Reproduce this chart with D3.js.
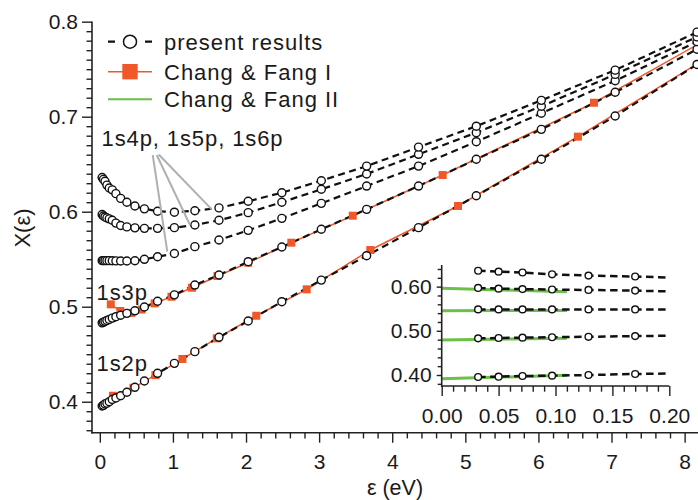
<!DOCTYPE html>
<html><head><meta charset="utf-8">
<script src="https://cdn.jsdelivr.net/npm/d3@7"></script>
<style>
html,body{margin:0;padding:0;background:#fff;}
svg text{font-family:"Liberation Sans",Arial,Helvetica,sans-serif;fill:#1a1a1a;}
</style></head><body>
<svg id="chart" width="698" height="500"></svg>
<script>
// Photon energy grid (eV) of the present calculation
const eps = [0.032, 0.050, 0.071, 0.097, 0.129, 0.170, 0.22, 0.285, 0.37, 0.48, 0.61, 0.79,
             1.02, 1.30, 1.63, 2.03, 2.49, 3.03, 3.65, 4.36, 5.15, 6.04, 7.05, 8.17];

// Present results, X(ε) for each final state
const x1s2p = [0.3955, 0.3962, 0.3977, 0.3985, 0.4000, 0.4023, 0.4040, 0.4063, 0.4100, 0.4152, 0.4218, 0.4299,
               0.4404, 0.4527, 0.4678, 0.4850, 0.5053, 0.5280, 0.5537, 0.5832, 0.6168, 0.6552, 0.7007, 0.7550];
const x1s3p = [0.4830, 0.4838, 0.4846, 0.4855, 0.4865, 0.4880, 0.4895, 0.4910, 0.4930, 0.4957, 0.4997, 0.5057,
               0.5125, 0.5228, 0.5334, 0.5474, 0.5628, 0.5815, 0.6025, 0.6270, 0.6552, 0.6867, 0.7257, 0.7710];
const x1s4p = [0.5485, 0.5485, 0.5485, 0.5485, 0.5485, 0.5484, 0.5482, 0.5481, 0.5481, 0.5484, 0.5499, 0.5526,
               0.5560, 0.5632, 0.5702, 0.5804, 0.5930, 0.6088, 0.6270, 0.6480, 0.6737, 0.7036, 0.7379, 0.7790];
const x1s5p = [0.5970, 0.5955, 0.5945, 0.5935, 0.5925, 0.5910, 0.5880, 0.5855, 0.5840, 0.5830, 0.5825, 0.5825,
               0.5832, 0.5860, 0.5910, 0.5990, 0.6100, 0.6236, 0.6397, 0.6604, 0.6832, 0.7110, 0.7445, 0.7840];
const x1s6p = [0.6360, 0.6340, 0.6320, 0.6280, 0.6250, 0.6230, 0.6190, 0.6140, 0.6100, 0.6060, 0.6030, 0.6005,
               0.5995, 0.6010, 0.6040, 0.6110, 0.6200, 0.6326, 0.6480, 0.6680, 0.6900, 0.7172, 0.7490, 0.7890];

// Chang & Fang I (markers), plus the curve's value at the right edge of the axis
const cf1Eps2p = [0.18, 0.46, 0.76, 1.13, 1.60, 2.14, 2.83, 3.70, 4.90, 6.54];
const cf1Val2p = [0.4063, 0.4147, 0.4280, 0.4450, 0.4667, 0.4905, 0.5183, 0.5597, 0.6060, 0.6790];
const cf1Eps3p = [0.15, 0.28, 0.43, 0.57, 0.75, 0.98, 1.26, 1.61, 2.03, 2.62, 3.46, 4.69, 6.76];
const cf1Val3p = [0.5025, 0.4955, 0.4935, 0.4970, 0.5035, 0.5105, 0.5200, 0.5323, 0.5463, 0.5674, 0.5958, 0.6386, 0.7147];
const cf1EdgeEps = 8.2;
const cf1EdgeVal2p = 0.757;
const cf1EdgeVal3p = 0.777;

// Chang & Fang II (low-energy curves)
const cf2Eps = [0.0, 0.11];
const cf2Val2p = [0.3917, 0.3993];
const cf2Val3p = [0.4793, 0.4832];
const cf2Val4p = [0.5455, 0.5460];
const cf2Val5p = [0.5963, 0.5886];

// Axis ticks
const xMajor = [0, 1, 2, 3, 4, 5, 6, 7, 8];
const yMajor = [0.4, 0.5, 0.6, 0.7, 0.8];
const insetXMajor = [0.00, 0.05, 0.10, 0.15, 0.20];
const insetYMajor = [0.40, 0.50, 0.60];

const stateLabels = ["1s2p", "1s3p"];
const groupLabel = "1s4p, 1s5p, 1s6p";
const legendLabels = ["present results", "Chang & Fang I", "Chang & Fang II"];

const BLACK = "#111", ORANGE = "#f0582a", GREEN = "#6cbf47", AXIS = "#222", GREY = "#b0b0b0";

const svg = d3.select("#chart");

const x = d3.scaleLinear().domain([-0.107, 8.183]).range([92, 698]);
const y = d3.scaleLinear().domain([0.3674, 0.8003]).range([432.7, 21.4]);

const present = [x1s2p, x1s3p, x1s4p, x1s5p, x1s6p].map(v => eps.map((e, i) => [e, v[i]]));
const cf1 = [
  cf1Eps2p.map((e, i) => [e, cf1Val2p[i]]),
  cf1Eps3p.map((e, i) => [e, cf1Val3p[i]])
];
const cf1Curves = [
  cf1[0].concat([[cf1EdgeEps, cf1EdgeVal2p]]),
  cf1[1].concat([[cf1EdgeEps, cf1EdgeVal3p]])
];
const cf2 = [cf2Val2p, cf2Val3p, cf2Val4p, cf2Val5p].map(v => cf2Eps.map((e, i) => [e, v[i]]));

function styleAxis(g, fontSize) {
  g.select(".domain").remove();
  g.selectAll(".tick line").attr("stroke", AXIS).attr("stroke-width", 1.4);
  g.selectAll(".tick text").attr("font-size", fontSize).attr("fill", "#1a1a1a")
    .style("font-family", '"Liberation Sans", Arial, sans-serif');
}

// ---------- main panel ----------
const defs = svg.append("defs");
defs.append("clipPath").attr("id", "mainClip").append("rect")
  .attr("x", 92).attr("y", 0).attr("width", 606).attr("height", 432.7);

const plot = svg.append("g").attr("clip-path", "url(#mainClip)");
const line = d3.line().x(d => x(d[0])).y(d => y(d[1]));

plot.selectAll("path.cf2").data(cf2).join("path").attr("class", "cf2")
  .attr("d", line).attr("fill", "none").attr("stroke", GREEN).attr("stroke-width", 2.2);
plot.selectAll("path.cf1").data(cf1Curves).join("path").attr("class", "cf1")
  .attr("d", line).attr("fill", "none").attr("stroke", ORANGE).attr("stroke-width", 1.5);
plot.selectAll("path.pres").data(present).join("path").attr("class", "pres")
  .attr("d", line).attr("fill", "none").attr("stroke", BLACK).attr("stroke-width", 2.2)
  .attr("stroke-dasharray", "7,4.5");
plot.selectAll("g.sq").data(cf1).join("g").attr("class", "sq")
  .selectAll("rect").data(d => d).join("rect")
  .attr("x", d => x(d[0]) - 4).attr("y", d => y(d[1]) - 4)
  .attr("width", 8).attr("height", 8).attr("fill", ORANGE);
plot.selectAll("g.pts").data(present).join("g").attr("class", "pts")
  .selectAll("circle").data(d => d).join("circle")
  .attr("cx", d => x(d[0])).attr("cy", d => y(d[1])).attr("r", 4)
  .attr("fill", "#fff").attr("stroke", BLACK).attr("stroke-width", 1.4);

// axes
const yAx = svg.append("g").attr("transform", "translate(92,0)");
yAx.append("g").call(d3.axisLeft(y).tickValues(d3.range(37, 81).map(d => d / 100).filter(v => Math.round(v * 100) % 10 !== 0))
  .tickSize(5.5).tickFormat("")).call(g => styleAxis(g, 21));
yAx.append("g").call(d3.axisLeft(y).tickValues(yMajor).tickSize(10).tickPadding(4).tickFormat(d3.format(".1f")))
  .call(g => styleAxis(g, 21));
yAx.append("line").attr("x1", 0).attr("x2", 0).attr("y1", y(0.8003)).attr("y2", 433.4)
  .attr("stroke", AXIS).attr("stroke-width", 1.6);

const xAx = svg.append("g").attr("transform", "translate(0,432.7)");
xAx.append("g").call(d3.axisBottom(x).tickValues(d3.range(0, 42).map(d => d / 5).filter(v => Math.abs(v - Math.round(v)) > 1e-6))
  .tickSize(5.7).tickFormat("")).call(g => styleAxis(g, 21));
xAx.append("g").call(d3.axisBottom(x).tickValues(xMajor).tickSize(10).tickFormat(d3.format("d")))
  .call(g => styleAxis(g, 21)).call(g => g.selectAll(".tick text").attr("y", 36.8).attr("dy", 0));
xAx.append("line").attr("x1", 91.2).attr("x2", 698).attr("y1", 0).attr("y2", 0)
  .attr("stroke", AXIS).attr("stroke-width", 1.6);

svg.append("text").attr("x", 395).attr("y", 494.5).attr("text-anchor", "middle")
  .attr("font-size", 21.5).text("ε (eV)");
svg.append("text").attr("transform", "translate(30,228) rotate(-90)").attr("text-anchor", "middle")
  .attr("font-size", 22).text("X(ε)");

// state labels and pointers
const pointerFrom = [[0.724, 0.6597], [0.778, 0.6597], [0.806, 0.6602]];
const pointerTo = [[0.923, 0.5579], [1.234, 0.586], [1.531, 0.6025]];
svg.selectAll("line.ptr").data(pointerFrom).join("line").attr("class", "ptr")
  .attr("x1", d => x(d[0])).attr("y1", d => y(d[1]))
  .attr("x2", (d, i) => x(pointerTo[i][0])).attr("y2", (d, i) => y(pointerTo[i][1]))
  .attr("stroke", GREY).attr("stroke-width", 2);
svg.append("text").attr("x", 101.5).attr("y", 146).attr("font-size", 22)
  .attr("letter-spacing", 0.9).text(groupLabel);
svg.append("text").attr("x", 96.5).attr("y", 300).attr("font-size", 22)
  .attr("letter-spacing", 0.9).text(stateLabels[1]);
svg.append("text").attr("x", 96.5).attr("y", 370.5).attr("font-size", 22)
  .attr("letter-spacing", 0.9).text(stateLabels[0]);

// legend
const leg = svg.append("g");
const legY = [41.7, 71.7, 99.3];
leg.append("line").attr("x1", 108).attr("x2", 152).attr("y1", legY[0]).attr("y2", legY[0])
  .attr("stroke", BLACK).attr("stroke-width", 2.2).attr("stroke-dasharray", "7,30");
leg.append("circle").attr("cx", 130).attr("cy", legY[0]).attr("r", 6.5)
  .attr("fill", "#fff").attr("stroke", BLACK).attr("stroke-width", 1.5);
leg.append("line").attr("x1", 108).attr("x2", 152).attr("y1", legY[1]).attr("y2", legY[1])
  .attr("stroke", ORANGE).attr("stroke-width", 1.6);
leg.append("rect").attr("x", 122.3).attr("y", legY[1] - 7.7).attr("width", 15.4).attr("height", 15.4)
  .attr("fill", ORANGE);
leg.append("line").attr("x1", 108).attr("x2", 152).attr("y1", legY[2]).attr("y2", legY[2])
  .attr("stroke", GREEN).attr("stroke-width", 2);
leg.selectAll("text").data(legendLabels).join("text")
  .attr("x", 164).attr("y", (d, i) => legY[i] + 7.8).attr("font-size", 22)
  .attr("letter-spacing", 1).text(d => d);

// ---------- inset: low-energy detail ----------
const ix = d3.scaleLinear().domain([0, 0.2]).range([441.7, 669.3]);
const iy = d3.scaleLinear().domain([0.3751, 0.649]).range([386, 265]);
defs.append("clipPath").attr("id", "insetClip").append("rect")
  .attr("x", 441.7).attr("y", 258).attr("width", 227.6).attr("height", 128);
const iline = d3.line().x(d => ix(d[0])).y(d => iy(d[1]));
const inset = svg.append("g").attr("clip-path", "url(#insetClip)");
inset.selectAll("path.cf2").data(cf2).join("path").attr("class", "cf2")
  .attr("d", iline).attr("fill", "none").attr("stroke", GREEN).attr("stroke-width", 3);
inset.selectAll("path.pres").data(present).join("path").attr("class", "pres")
  .attr("d", iline).attr("fill", "none").attr("stroke", BLACK).attr("stroke-width", 2.5)
  .attr("stroke-dasharray", "7.5,4.5");
inset.selectAll("g.pts").data(present).join("g").attr("class", "pts")
  .selectAll("circle").data(d => d.filter(p => p[0] <= 0.2)).join("circle")
  .attr("cx", d => ix(d[0])).attr("cy", d => iy(d[1])).attr("r", 3.4)
  .attr("fill", "#fff").attr("stroke", BLACK).attr("stroke-width", 1.4);

const iyAx = svg.append("g").attr("transform", "translate(441.7,0)");
iyAx.append("g").call(d3.axisLeft(iy).tickValues(d3.range(38, 65, 2).map(d => d / 100).filter(v => Math.round(v * 100) % 10 !== 0))
  .tickSize(4).tickFormat("")).call(g => styleAxis(g, 21));
iyAx.append("g").call(d3.axisLeft(iy).tickValues(insetYMajor).tickSize(5).tickPadding(5).tickFormat(d3.format(".2f")))
  .call(g => styleAxis(g, 21));
iyAx.append("line").attr("x1", 0).attr("x2", 0).attr("y1", 265).attr("y2", 386.7)
  .attr("stroke", AXIS).attr("stroke-width", 1.6);

const ixAx = svg.append("g").attr("transform", "translate(0,386)");
ixAx.append("g").call(d3.axisBottom(ix).tickValues(d3.range(0, 21).map(d => d / 100).filter(v => Math.round(v * 100) % 5 !== 0))
  .tickSize(5.7).tickFormat("")).call(g => styleAxis(g, 21));
ixAx.append("g").call(d3.axisBottom(ix).tickValues(insetXMajor).tickSize(10).tickFormat(d3.format(".2f")))
  .call(g => styleAxis(g, 21)).call(g => g.selectAll(".tick text").attr("y", 37).attr("dy", 0));
ixAx.append("line").attr("x1", 441).attr("x2", 669.3).attr("y1", 0).attr("y2", 0)
  .attr("stroke", AXIS).attr("stroke-width", 1.6);
</script>
</body></html>
